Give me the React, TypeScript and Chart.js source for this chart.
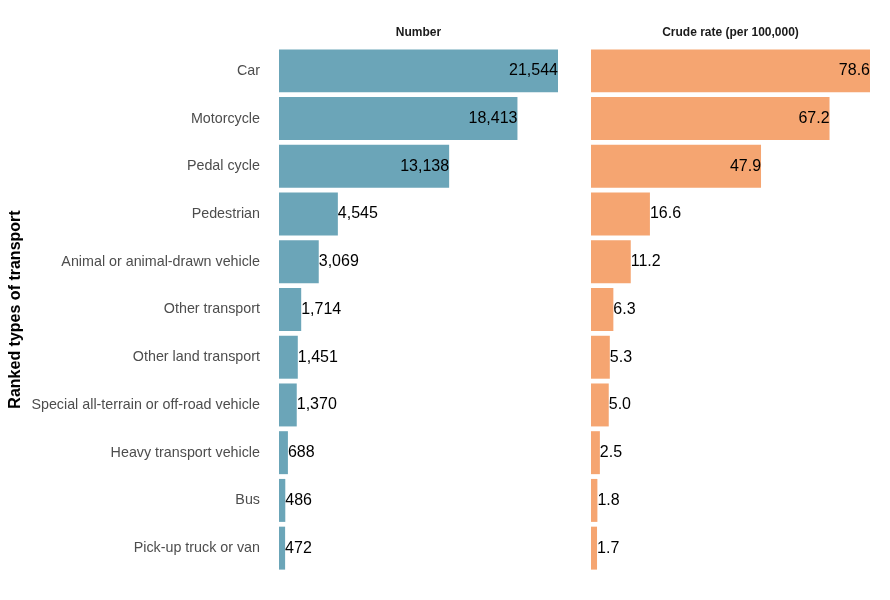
import React, { useEffect, useRef } from "react";
import { Chart, registerables } from "chart.js";

Chart.register(...registerables);

const categories = [
  "Car",
  "Motorcycle",
  "Pedal cycle",
  "Pedestrian",
  "Animal or animal-drawn vehicle",
  "Other transport",
  "Other land transport",
  "Special all-terrain or off-road vehicle",
  "Heavy transport vehicle",
  "Bus",
  "Pick-up truck or van",
];
const numberValues = [21544, 18413, 13138, 4545, 3069, 1714, 1451, 1370, 688, 486, 472];
const rateValues = [78.6, 67.2, 47.9, 16.6, 11.2, 6.3, 5.3, 5.0, 2.5, 1.8, 1.7];
const numberLabels = ["21,544", "18,413", "13,138", "4,545", "3,069", "1,714", "1,451", "1,370", "688", "486", "472"];
const rateLabels = ["78.6", "67.2", "47.9", "16.6", "11.2", "6.3", "5.3", "5.0", "2.5", "1.8", "1.7"];

const FONT = "'Liberation Sans', Arial, Helvetica, sans-serif";
const TEAL = "#6BA5B8";
const ORANGE = "#F5A571";

function makePanelPlugin(title: string, labels: string[]) {
  return {
    id: "panelDecor" + title.length,
    afterDatasetsDraw(chart: any) {
      const { ctx, chartArea } = chart;
      ctx.save();
      ctx.fillStyle = "#1a1a1a";
      ctx.font = "bold 12px " + FONT;
      ctx.textAlign = "center";
      ctx.textBaseline = "middle";
      ctx.fillText(title, (chartArea.left + chartArea.right) / 2, 33);
      const meta = chart.getDatasetMeta(0);
      const data = chart.data.datasets[0].data as number[];
      const max = Math.max(...data);
      ctx.font = "16px " + FONT;
      ctx.fillStyle = "#000000";
      meta.data.forEach((bar: any, i: number) => {
        const inside = data[i] >= 0.5 * max;
        if (inside) {
          ctx.textAlign = "right";
          ctx.fillText(labels[i], bar.x, bar.y);
        } else {
          ctx.textAlign = "left";
          ctx.fillText(labels[i], bar.x, bar.y);
        }
      });
      ctx.restore();
    },
  };
}

export default function App() {
  const leftRef = useRef<HTMLCanvasElement>(null);
  const rightRef = useRef<HTMLCanvasElement>(null);

  useEffect(() => {
    const common = (values: number[], color: string) => ({
      labels: categories,
      datasets: [
        {
          data: values,
          backgroundColor: color,
          borderWidth: 0,
          barPercentage: 0.9,
          categoryPercentage: 1.0,
        },
      ],
    });

    const left = new Chart(leftRef.current!, {
      type: "bar",
      data: common(numberValues, TEAL),
      options: {
        indexAxis: "y",
        responsive: false,
        animation: false,
        layout: { padding: { top: 47, bottom: 28, left: 0, right: 12 } },
        plugins: { legend: { display: false }, tooltip: { enabled: false }, title: { display: false } },
        scales: {
          x: { display: false, min: 0, max: Math.max(...numberValues) },
          y: {
            grid: { display: false, drawTicks: false },
            border: { display: false },
            ticks: { color: "#4d4d4d", font: { family: FONT, size: 14.3 }, padding: 19 },
            title: {
              display: true,
              text: "Ranked types of transport",
              color: "#000000",
              font: { family: FONT, size: 16, weight: "bold" },
              padding: { top: 6, bottom: 0 },
            },
            afterFit: (s: any) => {
              s.width = 279;
            },
          },
        },
      } as any,
      plugins: [makePanelPlugin("Number", numberLabels)],
    });

    const right = new Chart(rightRef.current!, {
      type: "bar",
      data: common(rateValues, ORANGE),
      options: {
        indexAxis: "y",
        responsive: false,
        animation: false,
        layout: { padding: { top: 47, bottom: 28, left: 11, right: 20 } },
        plugins: { legend: { display: false }, tooltip: { enabled: false }, title: { display: false } },
        scales: {
          x: { display: false, min: 0, max: Math.max(...rateValues) },
          y: { display: false },
        },
      } as any,
      plugins: [makePanelPlugin("Crude rate (per 100,000)", rateLabels)],
    });

    return () => {
      left.destroy();
      right.destroy();
    };
  }, []);

  return (
    <div style={{ position: "absolute", left: 0, top: 0, width: 890, height: 600, background: "#fff" }}>
      <canvas ref={leftRef} width={570} height={600} style={{ position: "absolute", left: 0, top: 0 }} />
      <canvas ref={rightRef} width={310} height={600} style={{ position: "absolute", left: 580, top: 0 }} />
    </div>
  );
}
